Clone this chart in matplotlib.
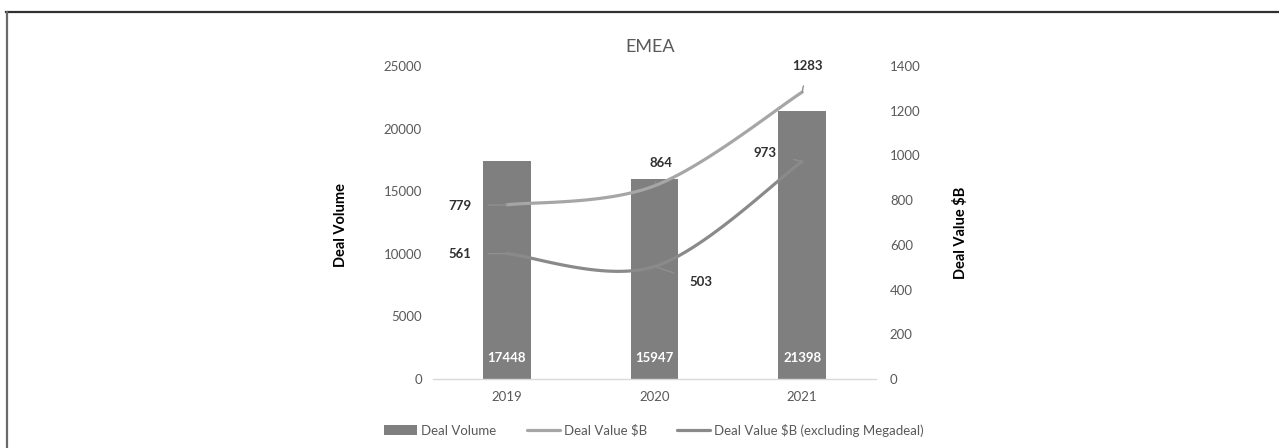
import numpy as np
import matplotlib
matplotlib.use('Agg')
import matplotlib.pyplot as plt
from matplotlib.lines import Line2D

plt.rcParams['font.family'] = ['Lato', 'DejaVu Sans']

# ── data ──
years = ['2019', '2020', '2021']
deal_volume = [17448, 15947, 21398]
deal_value = [779, 864, 1283]
deal_value_ex_mega = [561, 503, 973]

BAR_COLOR = '#7f7f7f'
LINE1_COLOR = '#a6a6a6'
LINE2_COLOR = '#8a8a8a'
TICK_COLOR = '#595959'
FS = 9.5


def excel_smooth(xs, ys, n=60):
    # Excel-style smoothed line: cubic Bezier with Catmull-Rom control points
    pts = np.column_stack([np.asarray(xs, float), np.asarray(ys, float)])
    out = []
    for i in range(len(pts) - 1):
        p0 = pts[i - 1] if i > 0 else pts[i]
        p1 = pts[i]
        p2 = pts[i + 1]
        p3 = pts[i + 2] if i + 2 < len(pts) else pts[i + 1]
        c1 = p1 + (p2 - p0) / 6
        c2 = p2 - (p3 - p1) / 6
        t = np.linspace(0, 1, n)[:, None]
        seg = ((1 - t) ** 3) * p1 + 3 * ((1 - t) ** 2) * t * c1 + 3 * (1 - t) * t ** 2 * c2 + t ** 3 * p2
        out.append(seg if i == 0 else seg[1:])
    out = np.vstack(out)
    return out[:, 0], out[:, 1]


fig = plt.figure(figsize=(12.79, 4.48), dpi=100)
ax = fig.add_axes([433 / 1279, 1 - 379 / 448, 443 / 1279, 313 / 448])
ax2 = ax.twinx()

x = np.arange(len(years))
ax.bar(x, deal_volume, width=0.325, color=BAR_COLOR, label='Deal Volume', zorder=2)
ax.set_xlim(-0.5, 2.5)
ax.set_ylim(0, 25000)
ax.set_yticks(np.arange(0, 25001, 5000))
ax.set_xticks(x)
ax.set_xticklabels(years)

for i, v in enumerate(deal_volume):
    ax.annotate(str(v), xy=(i, 0), xytext=(0, 15), textcoords='offset points',
                ha='center', va='center', color='white', fontsize=FS, fontweight='bold')

sx, sy = excel_smooth(x, deal_value)
ax2.plot(sx, sy, color=LINE1_COLOR, lw=2.3, label='Deal Value $B', solid_capstyle='round')
sx, sy = excel_smooth(x, deal_value_ex_mega)
ax2.plot(sx, sy, color=LINE2_COLOR, lw=2.3, label='Deal Value $B (excluding Megadeal)',
         solid_capstyle='round')
ax2.set_ylim(0, 1400)
ax2.set_yticks(np.arange(0, 1401, 200))

# data labels with leader lines (offsets / shrink in points)
label_offsets_1 = [(-33.8, -0.5), (5, 16.6), (3.6, 18.7)]
label_offsets_2 = [(-33.8, -0.3), (33.8, -11.2), (-26.6, 6.1)]
shrinks_1 = [(10, 19.5), (7.5, 1.5), (8, 0)]
shrinks_2 = [(10, 19.5), (10, 1.5), (10.5, 0.5)]
for series, offs, shr in [(deal_value, label_offsets_1, shrinks_1),
                          (deal_value_ex_mega, label_offsets_2, shrinks_2)]:
    for i, v in enumerate(series):
        ax2.annotate(str(v), xy=(i, v), xytext=offs[i], textcoords='offset points',
                     ha='center', va='center', fontsize=FS, fontweight='bold', color='#303030',
                     arrowprops=dict(arrowstyle='-', color='#8f8f8f', lw=1.0,
                                     shrinkA=shr[i][0], shrinkB=shr[i][1]))

# axes styling
for a in (ax, ax2):
    for s in a.spines.values():
        s.set_visible(False)
ax.spines['bottom'].set_visible(True)
ax.spines['bottom'].set_color('#d9d9d9')
ax.spines['bottom'].set_linewidth(1)
ax.tick_params(axis='y', length=0, pad=8, labelsize=FS, labelcolor=TICK_COLOR)
ax.tick_params(axis='x', length=0, pad=8.5, labelsize=FS, labelcolor=TICK_COLOR)
ax2.tick_params(axis='y', length=0, pad=10, labelsize=FS, labelcolor=TICK_COLOR)

ax.set_ylabel('Deal Volume', fontsize=10.5, fontweight='bold', color='black')
ax.yaxis.set_label_coords(-0.192, 0.492)
ax2.set_ylabel('Deal Value $B', fontsize=10.5, fontweight='bold', color='black')
ax2.yaxis.set_label_coords(1.174, 0.466)

ax.text(0.49, 1.061, 'EMEA', transform=ax.transAxes, ha='center', va='center',
        fontsize=13, color=TICK_COLOR)

# legend
h1, l1 = ax.get_legend_handles_labels()
h2, l2 = ax2.get_legend_handles_labels()
fig.legend(h1 + h2, l1 + l2, loc='center', bbox_to_anchor=(654 / 1279, 1 - 430 / 448),
           ncol=3, frameon=False, fontsize=FS, labelcolor=TICK_COLOR,
           handlelength=2.5, handletextpad=0.3, columnspacing=2.3, handleheight=0.7)

# outer border (top and left edges)
fig.add_artist(Line2D([6 / 1279, 1], [1 - 12.5 / 448, 1 - 12.5 / 448], transform=fig.transFigure,
                      color='#303030', lw=1.6))
fig.add_artist(Line2D([6.5 / 1279, 6.5 / 1279], [0, 1 - 12.5 / 448], transform=fig.transFigure,
                      color='#6a6a6a', lw=1.6))

fig.savefig('out.png', dpi=100, facecolor='white')
